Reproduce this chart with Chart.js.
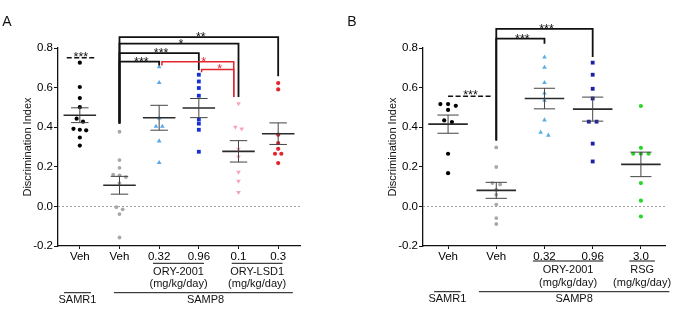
<!DOCTYPE html>
<html>
<head>
<meta charset="utf-8">
<script src="https://cdn.jsdelivr.net/npm/chart.js@4.4.0/dist/chart.umd.min.js"></script>
<style>
body { margin: 0; background: #fff; }
#wrap { position: relative; width: 684px; height: 314px; }
canvas { position: absolute; top: 0; }
#chartA { left: 0; }
#chartB { left: 342px; }
</style>
</head>
<body>
<div id="wrap">
  <canvas id="chartA" width="342" height="314"></canvas>
  <canvas id="chartB" width="342" height="314"></canvas>
</div>
<script>
// y axis ticks (both panels)
var yTicks = [-0.2, 0.0, 0.2, 0.4, 0.6, 0.8];

// Panel A - discrimination index per animal
var labelsA = ['Veh', 'Veh', '0.32', '0.96', '0.1', '0.3'];
var samr1VehA = [0.726, 0.603, 0.547, 0.501, 0.443, 0.428, 0.392, 0.387, 0.384, 0.348, 0.307];
var samp8VehA = [0.377, 0.234, 0.195, 0.160, 0.157, 0.148, 0.118, -0.004, -0.015, -0.039, -0.157];
var ory032A = [0.704, 0.625, 0.446, 0.404, 0.404, 0.330, 0.221];
var ory096A = [0.665, 0.631, 0.598, 0.559, 0.439, 0.418, 0.387, 0.276];
var lsd01A = [0.519, 0.401, 0.392, 0.290, 0.250, 0.173, 0.128, 0.071];
var lsd03A = [0.623, 0.591, 0.362, 0.320, 0.291, 0.266, 0.266, 0.219];

// Panel B
var labelsB = ['Veh', 'Veh', '0.32', '0.96', '3.0'];
var samr1VehB = [0.517, 0.517, 0.508, 0.487, 0.434, 0.426, 0.266, 0.168];
var samp8VehB = [0.298, 0.199, 0.118, 0.111, 0.084, 0.059, 0.009, -0.059, -0.089];
var ory032B = [0.754, 0.702, 0.625, 0.572, 0.535, 0.436, 0.374, 0.359];
var ory096B = [0.726, 0.665, 0.594, 0.545, 0.428, 0.428, 0.317, 0.227];
var rsgB = [0.507, 0.296, 0.266, 0.266, 0.266, 0.118, 0.029, -0.051];

Chart.defaults.font.family = "'Liberation Sans', Arial, sans-serif";
Chart.defaults.color = '#000';

var RED = '#e3262e';

function stats(vals) {
  var n = vals.length, m = 0, ss = 0;
  vals.forEach(function(v){ m += v; });
  m = m / n;
  vals.forEach(function(v){ ss += (v - m) * (v - m); });
  return { mean: m, sem: Math.sqrt(ss / (n - 1)) / Math.sqrt(n) };
}

// small horizontal spread for points that would sit on top of each other
function spread(vals) {
  var idx = vals.map(function(v, i){ return i; }).sort(function(a, b){ return vals[b] - vals[a]; });
  var offs = vals.map(function(){ return 0; });
  var cluster = [];
  function flush() {
    cluster.forEach(function(k, j){ offs[k] = (j - (cluster.length - 1) / 2) * 0.16; });
    cluster = [];
  }
  idx.forEach(function(k){
    if (cluster.length && vals[cluster[cluster.length - 1]] - vals[k] > 0.016) flush();
    cluster.push(k);
  });
  flush();
  return offs;
}

function overlay(p) {
  return {
    id: 'overlay',
    beforeDatasetsDraw: function(chart) {
      var ctx = chart.ctx, a = chart.chartArea, y0 = chart.scales.y.getPixelForValue(0);
      ctx.save();
      ctx.strokeStyle = '#8c8c8c';
      ctx.lineWidth = 0.8;
      ctx.setLineDash([2, 2]);
      ctx.beginPath();
      ctx.moveTo(a.left, y0);
      ctx.lineTo(a.right, y0);
      ctx.stroke();
      ctx.restore();
    },
    afterDatasetsDraw: function(chart) {
      var ctx = chart.ctx, xs = chart.scales.x, ys = chart.scales.y, a = chart.chartArea;
      var X = function(v){ return xs.getPixelForValue(v); };
      var Y = function(v){ return ys.getPixelForValue(v); };
      var u = X(2) - X(1);
      ctx.save();

      // mean +/- SEM
      p.groups.forEach(function(vals, i){
        var s = stats(vals), cx = X(i + 1);
        ctx.strokeStyle = '#2a2a2a';
        ctx.lineWidth = 1.6;
        ctx.beginPath();
        ctx.moveTo(cx - 0.41 * u, Y(s.mean));
        ctx.lineTo(cx + 0.41 * u, Y(s.mean));
        ctx.stroke();
        ctx.strokeStyle = '#444';
        ctx.lineWidth = 1;
        ctx.beginPath();
        ctx.moveTo(cx, Y(s.mean + s.sem));
        ctx.lineTo(cx, Y(s.mean - s.sem));
        ctx.moveTo(cx - 0.22 * u, Y(s.mean + s.sem));
        ctx.lineTo(cx + 0.22 * u, Y(s.mean + s.sem));
        ctx.moveTo(cx - 0.22 * u, Y(s.mean - s.sem));
        ctx.lineTo(cx + 0.22 * u, Y(s.mean - s.sem));
        ctx.stroke();
      });

      // significance brackets
      ctx.font = '12.5px "Liberation Sans", Arial, sans-serif';
      ctx.textAlign = 'center';
      ctx.textBaseline = 'alphabetic';
      p.brackets.forEach(function(b){
        var c = b.color || '#111';
        ctx.strokeStyle = c;
        ctx.lineWidth = b.color ? 1.5 : 1.8;
        ctx.beginPath();
        ctx.moveTo(X(b.x1), Y(b.y1));
        ctx.lineTo(X(b.x1), Y(b.y));
        ctx.lineTo(X(b.x2), Y(b.y));
        ctx.lineTo(X(b.x2), Y(b.y2));
        ctx.stroke();
        ctx.fillStyle = c;
        var tx = b.tx !== undefined ? X(b.tx) : (X(b.x1) + X(b.x2)) / 2 + 2;
        ctx.fillText(b.text, tx, Y(b.y) + 4);
      });

      // dashed comparison
      var d = p.dashed;
      ctx.strokeStyle = '#111';
      ctx.lineWidth = 1.6;
      ctx.setLineDash([5, 2.5]);
      ctx.beginPath();
      ctx.moveTo(X(d.x1), Y(d.y));
      ctx.lineTo(X(d.x2), Y(d.y));
      ctx.stroke();
      ctx.setLineDash([]);
      ctx.fillStyle = '#111';
      ctx.fillText(d.text, (X(d.x1) + X(d.x2)) / 2, Y(d.y) + 3);

      // group labels below the axis
      ctx.font = '11px "Liberation Sans", Arial, sans-serif';
      ctx.textBaseline = 'middle';
      ctx.lineWidth = 1;
      ctx.strokeStyle = '#111';
      p.groupLabels.forEach(function(g){
        var ly = a.bottom + g.dy;
        ctx.beginPath();
        ctx.moveTo(X(g.x1), ly);
        ctx.lineTo(X(g.x2), ly);
        ctx.stroke();
        var tx = g.tx !== undefined ? X(g.tx) : (X(g.x1) + X(g.x2)) / 2;
        g.lines.forEach(function(t, k){
          ctx.fillText(t, tx, ly + g.t0 + k * 12.5);
        });
      });

      // y title
      ctx.save();
      ctx.translate(p.titleX, (a.top + a.bottom) / 2);
      ctx.rotate(-Math.PI / 2);
      ctx.fillText('Discrimination Index', 0, 0);
      ctx.restore();

      // panel letter
      ctx.font = '14px "Liberation Sans", Arial, sans-serif';
      ctx.fillText(p.letter, p.letterX, 22);
      ctx.restore();
    }
  };
}

function makeChart(id, p) {
  var datasets = p.groups.map(function(vals, i){
    var st = p.styles[i], offs = spread(vals);
    return {
      data: vals.map(function(v, k){ return { x: i + 1 + offs[k], y: v }; }),
      pointStyle: st.shape,
      pointRotation: st.rot || 0,
      pointRadius: st.r,
      pointBackgroundColor: st.color,
      pointBorderColor: st.color,
      pointBorderWidth: 0
    };
  });
  return new Chart(document.getElementById(id), {
    type: 'scatter',
    data: { datasets: datasets },
    options: {
      responsive: false,
      animation: false,
      events: [],
      layout: { padding: { left: 0, right: p.padRight, top: 48, bottom: 0 } },
      plugins: { legend: { display: false }, tooltip: { enabled: false } },
      scales: {
        x: {
          type: 'linear', min: p.xMin, max: p.xMax,
          afterFit: function(s){ s.height = 68; },
          afterBuildTicks: function(s){ s.ticks = p.labels.map(function(l, i){ return { value: i + 1 }; }); },
          ticks: {
            callback: function(v){ return p.labels[Math.round(v) - 1]; },
            padding: 1, autoSkip: false, maxRotation: 0, color: '#000',
            font: { size: 11.5 }
          },
          grid: { display: true, drawOnChartArea: false, drawTicks: true, tickLength: 3, color: '#111' },
          border: { color: '#111', width: 1.3 }
        },
        y: {
          min: -0.2, max: 0.8,
          afterFit: function(s){ s.width = p.axisX; },
          afterBuildTicks: function(s){ s.ticks = yTicks.map(function(v){ return { value: v }; }); },
          ticks: {
            callback: function(v){ return v.toFixed(1); },
            padding: 1, color: '#000', font: { size: 11.5 }
          },
          grid: { display: true, drawOnChartArea: false, drawTicks: true, tickLength: 4, color: '#111' },
          border: { color: '#111', width: 1.3 }
        }
      }
    },
    plugins: [overlay(p)]
  });
}

makeChart('chartA', {
  letter: 'A', letterX: 7, titleX: 28,
  axisX: 58, padRight: 42, xMin: 0.45, xMax: 6.55,
  labels: labelsA,
  groups: [samr1VehA, samp8VehA, ory032A, ory096A, lsd01A, lsd03A],
  styles: [
    { shape: 'circle', r: 2.1, color: '#000' },
    { shape: 'circle', r: 1.9, color: '#a8a8a8' },
    { shape: 'triangle', r: 2.7, color: '#5ba6e8' },
    { shape: 'rect', r: 2.7, color: '#1630d8' },
    { shape: 'triangle', rot: 180, r: 2.7, color: '#f4a4bc' },
    { shape: 'circle', r: 2.1, color: RED }
  ],
  brackets: [
    { x1: 2, x2: 6, y: 0.855, y1: 0.419, y2: 0.657, text: '**' },
    { x1: 2, x2: 5, y: 0.822, y1: 0.419, y2: 0.552, text: '*' },
    { x1: 2, x2: 4, y: 0.774, y1: 0.419, y2: 0.687, text: '***' },
    { x1: 2, x2: 3, y: 0.731, y1: 0.419, y2: 0.712, text: '***' },
    { x1: 3.07, x2: 4.88, y: 0.731, y1: 0.712, y2: 0.552, text: '*', tx: 4.12, color: RED },
    { x1: 4.07, x2: 4.88, y: 0.692, y1: 0.677, y2: 0.552, text: '*', color: RED }
  ],
  dashed: { x1: 0.67, x2: 1.38, y: 0.751, text: '***' },
  groupLabels: [
    { x1: 2.845, x2: 4.13, dy: 17.3, t0: 8.4, lines: ['ORY-2001', '(mg/kg/day)'] },
    { x1: 4.83, x2: 6.11, dy: 17.3, t0: 8.4, lines: ['ORY-LSD1', '(mg/kg/day)'] },
    { x1: 0.60, x2: 1.28, dy: 46.7, t0: 7.5, lines: ['SAMR1'] },
    { x1: 1.86, x2: 6.37, dy: 46.7, t0: 7.5, tx: 4.17, lines: ['SAMP8'] }
  ]
});

makeChart('chartB', {
  letter: 'B', letterX: 10, titleX: 51,
  axisX: 81, padRight: 19, xMin: 0.48, xMax: 5.5,
  labels: labelsB,
  groups: [samr1VehB, samp8VehB, ory032B, ory096B, rsgB],
  styles: [
    { shape: 'circle', r: 2.1, color: '#000' },
    { shape: 'circle', r: 1.9, color: '#a8a8a8' },
    { shape: 'triangle', r: 2.7, color: '#5aaee8' },
    { shape: 'rect', r: 2.7, color: '#1c22a8' },
    { shape: 'circle', r: 2.1, color: '#2bd62b' }
  ],
  brackets: [
    { x1: 2, x2: 4, y: 0.897, y1: 0.333, y2: 0.754, text: '***' },
    { x1: 2, x2: 3, y: 0.847, y1: 0.333, y2: 0.822, text: '***' }
  ],
  dashed: { x1: 1.0, x2: 1.93, y: 0.556, text: '***' },
  groupLabels: [
    { x1: 2.76, x2: 4.22, dy: 15, t0: 9, lines: ['ORY-2001', '(mg/kg/day)'] },
    { x1: 4.76, x2: 5.29, dy: 15, t0: 9, lines: ['RSG', '(mg/kg/day)'] },
    { x1: 0.71, x2: 1.26, dy: 45.7, t0: 7.5, lines: ['SAMR1'] },
    { x1: 1.64, x2: 5.59, dy: 45.7, t0: 7.5, lines: ['SAMP8'] }
  ]
});
</script>
</body>
</html>
